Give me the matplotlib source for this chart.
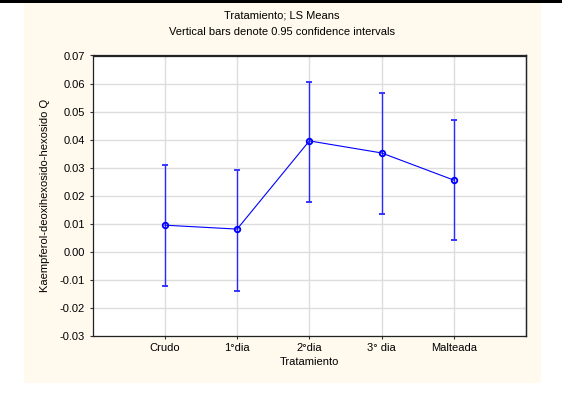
import matplotlib.pyplot as plt
from matplotlib.patches import Rectangle

plt.rcParams['font.family'] = ['Liberation Sans', 'DejaVu Sans']

categories = ['Crudo', '1°dia', '2°dia', '3° dia', 'Malteada']
means = [0.0094, 0.0080, 0.0395, 0.0352, 0.0255]
upper = [0.0309, 0.0291, 0.0606, 0.0566, 0.0471]
lower = [-0.0122, -0.0140, 0.0176, 0.0134, 0.0042]
yticks = [-0.03, -0.02, -0.01, 0.00, 0.01, 0.02, 0.03, 0.04, 0.05, 0.06, 0.07]

W, H = 562, 405
fig = plt.figure(figsize=(W / 100, H / 100), dpi=100)
fig.patch.set_facecolor('white')

# cream panel and black strip on top
fig.patches.append(Rectangle((24 / W, 1 - 383 / H), 517 / W, 380 / H,
                             transform=fig.transFigure, facecolor='#fff9ee',
                             edgecolor='none', zorder=-2))
fig.patches.append(Rectangle((0, 1 - 3 / H), 1, 3 / H,
                             transform=fig.transFigure, facecolor='black',
                             edgecolor='none', zorder=-2))

ax = fig.add_axes([92.7 / W, 1 - 335.5 / H, 433.3 / W, 280 / H])
ax.set_zorder(5)
ax.set_facecolor('white')

x = list(range(1, len(categories) + 1))
err_lo = [m - l for m, l in zip(means, lower)]
err_hi = [u - m for m, u in zip(means, upper)]
ax.errorbar(x, means, yerr=[err_lo, err_hi], color='#0000ff', linewidth=0.8,
            elinewidth=1, ecolor='#2a2aff', capsize=2.5, capthick=1, marker='o',
            markersize=4, markerfacecolor='none', markeredgewidth=1.3, zorder=3)

ax.set_xlim(0, 6)
ax.set_ylim(-0.03, 0.07)
ax.set_xticks(x)
ax.set_xticklabels(categories)
ax.set_yticks(yticks)
ax.set_yticklabels([f'{t:.2f}' for t in yticks])
ax.grid(color='#dddddd', linewidth=1)
ax.set_axisbelow(True)
ax.tick_params(axis='both', labelsize=8, length=2.5, width=0.8, color='#333333', pad=3)
for s in ax.spines.values():
    s.set_linewidth(0.9)
    s.set_color('#222222')

# inward ticks on top and right
top = ax.secondary_xaxis('top')
top.set_xticks(x)
top.tick_params(direction='in', length=2.5, width=0.8, color='#333333', labeltop=False)
right = ax.secondary_yaxis('right')
right.set_yticks(yticks)
right.tick_params(direction='in', length=2.5, width=0.8, color='#333333', labelright=False)
for sec in (top, right):
    for s in sec.spines.values():
        s.set_linewidth(0.9)
        s.set_color('#222222')

ax.set_xlabel('Tratamiento', fontsize=8, labelpad=3)
ax.set_ylabel('Kaempferol-deoxihexosido-hexosido Q', fontsize=8, labelpad=7)

fig.text(282 / W, 1 - 16 / H, 'Tratamiento; LS Means', ha='center', va='center', fontsize=8)
fig.text(282 / W, 1 - 32 / H, 'Vertical bars denote 0.95 confidence intervals',
         ha='center', va='center', fontsize=8)

fig.savefig('out.png', dpi=100, facecolor='white')
